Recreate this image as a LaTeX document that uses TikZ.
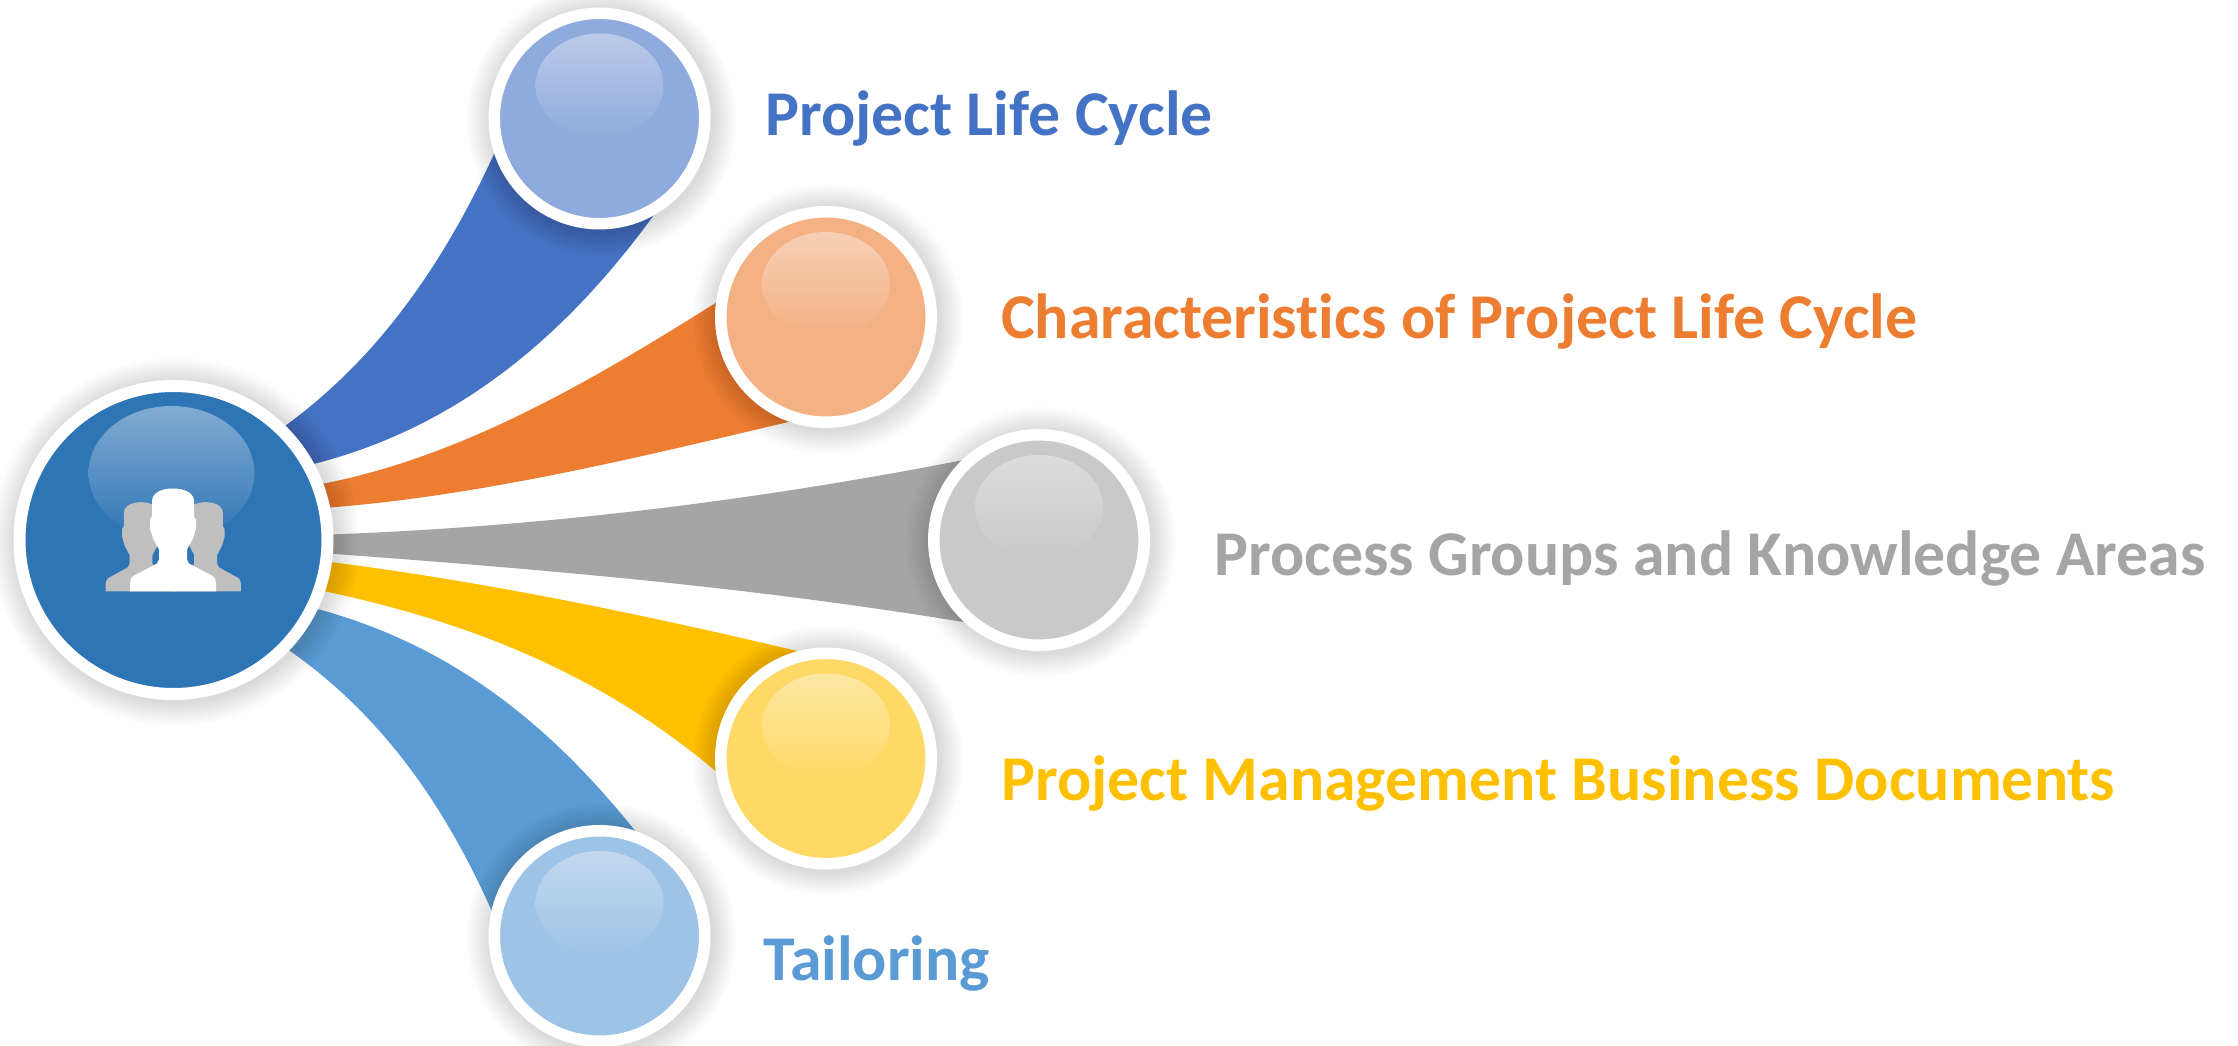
\documentclass[tikz,border=0pt]{standalone}
\usepackage{fontspec}
\setmainfont{Carlito}[Ligatures=NoCommon]
\usetikzlibrary{backgrounds}
\definecolor{huefill}{HTML}{2E75B6}
\definecolor{huegloss}{HTML}{82ABD2}
\definecolor{lifeband}{HTML}{4472C4}
\definecolor{lifefill}{HTML}{8FAADC}
\definecolor{lifegloss}{HTML}{BBCAE9}
\definecolor{charband}{HTML}{ED7D31}
\definecolor{charfill}{HTML}{F4B183}
\definecolor{chargloss}{HTML}{F6CFB4}
\definecolor{procband}{HTML}{A5A5A5}
\definecolor{procfill}{HTML}{C9C9C9}
\definecolor{procgloss}{HTML}{DCDCDC}
\definecolor{docsband}{HTML}{FFC000}
\definecolor{docsfill}{HTML}{FFD966}
\definecolor{docsgloss}{HTML}{FDE7A3}
\definecolor{tailband}{HTML}{5B9BD5}
\definecolor{tailfill}{HTML}{9DC3E6}
\definecolor{tailgloss}{HTML}{C3D8EE}
\definecolor{backperson}{HTML}{BFBFBF}
\tikzset{
	ball/.style={circle, draw=white, line width=11.5pt, outer sep=0pt, inner sep=0pt, minimum size=210.5pt},
	hubball/.style={circle, draw=white, line width=12pt, outer sep=0pt, inner sep=0pt, fill=huefill, minimum size=308pt},
	topic/.style={anchor=base west, inner sep=0pt, font=\fontsize{63.8}{76}\selectfont\bfseries},
	pics/person/.style={code={
		\fill[#1] (-43,0) -- (-43,8) .. controls (-43,14) and (-40,16) .. (-35,18) -- (-16,28) -- (-14,32) -- (-14,42) -- (-20,53) -- (-23,63) -- (-23,72) -- (-21,75) -- (-21,90) .. controls (-21,99) and (-11,103) .. (0,103) .. controls (11,103) and (21,99) .. (21,90) -- (21,75) -- (23,72) -- (23,63) -- (20,53) -- (14,42) -- (14,32) -- (16,28) -- (35,18) .. controls (40,16) and (43,14) .. (43,8) -- (43,0) -- cycle;
	}}
}
\begin{document}
\begin{tikzpicture}[x=1pt, y=1pt]
	\useasboundingbox (0,0) rectangle (2238,1046);
	\node[hubball] (hub) at (173.5,506) {};
	\node[ball, fill=lifefill] (life) at (599.5,927.5) {};
	\node[ball, fill=charfill] (char) at (826,729) {};
	\node[ball, fill=procfill] (proc) at (1039,506) {};
	\node[ball, fill=docsfill] (docs) at (826,287.5) {};
	\node[ball, fill=tailfill] (tail) at (599.5,110) {};

	\begin{pgfonlayer}{background}
		\fill[lifeband] (hub.46) .. controls (382,689) and (448,790) .. (life.195) -- (life.307) .. controls (570,712) and (458,617) .. (hub.29) -- cycle;
		\fill[charband] (hub.21) .. controls (462,588) and (595,667) .. (char.170) -- (char.256) .. controls (644,590) and (483,550) .. (hub.12) -- cycle;
		\fill[procband] (hub.2.5) .. controls (542,519.3) and (752,544.4) .. (proc.129) -- (proc.233) .. controls (753,459) and (543,476.6) .. (hub.-5.5) -- cycle;
		\fill[docsband] (hub.-8.5) .. controls (489,464) and (650,430) .. (docs.98) -- (docs.190) .. controls (603,372) and (468,425) .. (hub.-19) -- cycle;
		\fill[tailband] (hub.-26) .. controls (452,402) and (553,320) .. (tail.66) -- (tail.171) .. controls (444,245) and (378,335) .. (hub.-44) -- cycle;
		\foreach \n/\r in {hub/160, life/111, char/111, proc/111, docs/111, tail/111}
			\foreach \k in {2,4,...,24}
				\fill[black, opacity=.011] ([xshift=2pt, yshift=-2pt]\n.center) circle (\r+\k);
	\end{pgfonlayer}

	\shade[top color=huegloss, bottom color=huefill] ([xshift=-2pt, yshift=67pt]hub.center) ellipse (83 and 67);
	\foreach \n/\g/\f in {life/lifegloss/lifefill, char/chargloss/charfill, proc/procgloss/procfill, docs/docsgloss/docsfill, tail/tailgloss/tailfill}
		\shade[top color=\g, bottom color=\f] ([yshift=33pt]\n.center) ellipse (64 and 52);

	\pic[xscale=.82, yscale=.867] at (141,454.5) {person=backperson};
	\pic[xscale=.82, yscale=.867] at (205.7,454.5) {person=backperson};
	\pic at (173,454.5) {person=white};

	\node[topic, text=lifeband] (lifetext) at (765,910) {Project Life Cycle};
	\node[topic, text=charband] (chartext) at (1001,707) {Characteristics of Project Life Cycle};
	\node[topic, text=procband] (proctext) at (1214,470) {Process Groups and Knowledge Areas};
	\node[topic, text=docsband] (docstext) at (1001,245) {Project Management Business Documents};
	\node[topic, text=tailband] (tailtext) at (763,65) {Tailoring};
\end{tikzpicture}
\end{document}
